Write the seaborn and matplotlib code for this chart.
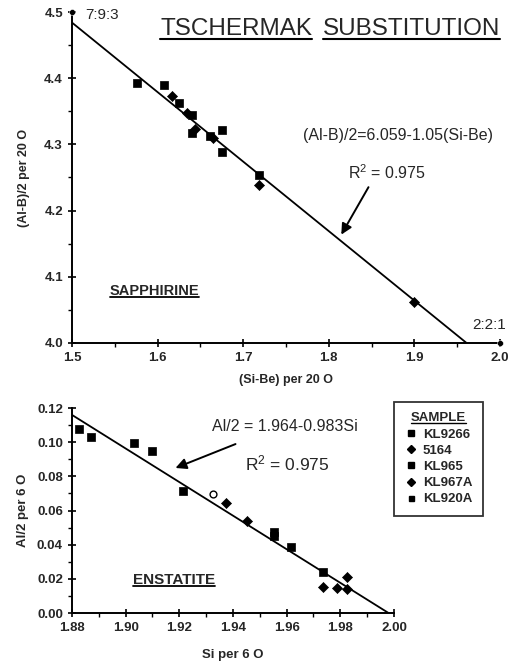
import numpy as np
import pandas as pd
import matplotlib
matplotlib.use("Agg")
import matplotlib.pyplot as plt
import seaborn as sns
from matplotlib.lines import Line2D
from matplotlib.ticker import MultipleLocator, FormatStrFormatter

# ---------------- data ----------------
# Sapphirine (top panel)
sap_x = [1.576, 1.608, 1.617, 1.625, 1.634, 1.640, 1.644, 1.640, 1.661, 1.665, 1.675, 1.675, 1.718, 1.718, 1.900]
sap_y = [4.392, 4.389, 4.373, 4.363, 4.347, 4.345, 4.323, 4.317, 4.312, 4.309, 4.321, 4.289, 4.254, 4.239, 4.062]
sap_sample = ["KL9266", "KL9266", "5164", "KL965", "KL967A", "KL965", "5164", "KL9266",
              "KL965", "KL967A", "KL920A", "KL9266", "KL965", "5164", "KL967A"]

# Enstatite (bottom panel)
ens_x = [1.8826, 1.887, 1.903, 1.910, 1.9214, 1.9374, 1.9452, 1.9553, 1.9553, 1.9616, 1.9735, 1.9735, 1.9788, 1.9825, 1.9825]
ens_y = [0.108, 0.103, 0.0995, 0.0948, 0.0714, 0.0644, 0.0539, 0.0474, 0.0450, 0.0386, 0.0240, 0.0152, 0.0146, 0.0210, 0.0140]
ens_sample = ["KL9266", "KL9266", "KL965", "KL965", "KL920A", "5164", "KL967A", "KL9266",
              "KL965", "KL920A", "KL965", "KL967A", "5164", "KL967A", "5164"]
ens_open_x = [1.9325]
ens_open_y = [0.0697]

samples = ["KL9266", "5164", "KL965", "KL967A", "KL920A"]
sample_markers = {"KL9266": "s", "5164": "D", "KL965": "s", "KL967A": "D", "KL920A": "s"}
sample_sizes = {"KL9266": 32, "5164": 26, "KL965": 32, "KL967A": 26, "KL920A": 30}

# end members
end_x = [1.5, 2.0]
end_y = [4.5, 4.0]
end_labels = ["7:9:3", "2:2:1"]

# regression lines: y = a - b x
sap_a, sap_b = 6.059, 1.05
ens_a, ens_b = 1.964, 0.983

top_xticks = [1.5, 1.6, 1.7, 1.8, 1.9, 2.0]
top_yticks = [4.0, 4.1, 4.2, 4.3, 4.4, 4.5]
bot_xticks = [1.88, 1.90, 1.92, 1.94, 1.96, 1.98, 2.00]
bot_yticks = [0.00, 0.02, 0.04, 0.06, 0.08, 0.10, 0.12]

# ---------------- style ----------------
sns.set_theme(style="ticks")
plt.rcParams["font.family"] = ["Liberation Sans", "DejaVu Sans"]
plt.rcParams["mathtext.fontset"] = "custom"
plt.rcParams["mathtext.rm"] = "Liberation Sans"
plt.rcParams["mathtext.it"] = "Liberation Sans:italic"
plt.rcParams["mathtext.bf"] = "Liberation Sans:bold"

fig = plt.figure(figsize=(5.08, 6.63), dpi=100)
ax1 = fig.add_axes([0.1417, 0.4827, 0.8425, 0.4992])
ax2 = fig.add_axes([0.1417, 0.0754, 0.6339, 0.3092])

underlined = []  # (text artist, linewidth)


def style_axes(ax):
    for s in ["top", "right"]:
        ax.spines[s].set_visible(False)
    for s in ["left", "bottom"]:
        ax.spines[s].set_linewidth(1.4)
        ax.spines[s].set_color("black")
    ax.tick_params(which="major", direction="inout", length=6, width=1.2, labelsize=9.5, color="black")
    ax.tick_params(which="minor", direction="out", length=3, width=1.0, color="black")
    for lab in ax.get_xticklabels() + ax.get_yticklabels():
        lab.set_fontweight("bold")


# ---------------- top panel ----------------
sap = pd.DataFrame({"x": sap_x, "y": sap_y, "sample": sap_sample})
for smp in samples:
    d = sap[sap["sample"] == smp]
    if len(d):
        sns.scatterplot(data=d, x="x", y="y", marker=sample_markers[smp], s=sample_sizes[smp],
                        color="black", edgecolor="black", linewidth=0.5, ax=ax1, legend=False, zorder=3)

x_end = (sap_a - 4.0) / sap_b
xl = np.array([1.5, x_end])
ax1.plot(xl, sap_a - sap_b * xl, color="black", lw=1.3, zorder=2)

ends = pd.DataFrame({"x": end_x, "y": end_y})
sns.scatterplot(data=ends, x="x", y="y", marker="o", s=18, color="black", ax=ax1,
                legend=False, clip_on=False, zorder=4)
ax1.text(1.515, 4.495, end_labels[0], fontsize=11, va="center", ha="left")
ax1.text(1.968, 4.027, end_labels[1], fontsize=11, va="center", ha="left")

ax1.set_xlim(1.5, 2.0)
ax1.set_ylim(4.0, 4.5)
ax1.set_xticks(top_xticks)
ax1.set_yticks(top_yticks)
ax1.xaxis.set_minor_locator(MultipleLocator(0.05))
ax1.yaxis.set_minor_locator(MultipleLocator(0.05))
ax1.xaxis.set_major_formatter(FormatStrFormatter("%.1f"))
ax1.yaxis.set_major_formatter(FormatStrFormatter("%.1f"))
ax1.set_xlabel("(Si-Be) per 20 O", fontsize=9, fontweight="bold", labelpad=7)
ax1.set_ylabel("(Al-B)/2 per 20 O", fontsize=9, fontweight="bold", labelpad=10)
style_axes(ax1)

t = ax1.text(1.603, 4.474, "TSCHERMAK", fontsize=17.5, va="center", ha="left")
underlined.append((t, 1.5))
t = ax1.text(1.793, 4.474, "SUBSTITUTION", fontsize=17.5, va="center", ha="left")
underlined.append((t, 1.5))
ax1.text(1.77, 4.313, "(Al-B)/2=6.059-1.05(Si-Be)", fontsize=11.5, va="center", ha="left")
ax1.text(1.822, 4.257, r"R$^2$ = 0.975", fontsize=11.5, va="center", ha="left")
ax1.annotate("", xy=(1.813, 4.160), xytext=(1.848, 4.239),
             arrowprops=dict(arrowstyle="-|>", color="black", lw=1.4, mutation_scale=16))
t = ax1.text(1.544, 4.078, "SAPPHIRINE", fontsize=10.5, fontweight="bold", va="center", ha="left")
underlined.append((t, 1.3))

# ---------------- bottom panel ----------------
ens = pd.DataFrame({"x": ens_x, "y": ens_y, "sample": ens_sample})
for smp in samples:
    d = ens[ens["sample"] == smp]
    if len(d):
        sns.scatterplot(data=d, x="x", y="y", marker=sample_markers[smp], s=sample_sizes[smp],
                        color="black", edgecolor="black", linewidth=0.5, ax=ax2, legend=False, zorder=3)
ens_open = pd.DataFrame({"x": ens_open_x, "y": ens_open_y})
sns.scatterplot(data=ens_open, x="x", y="y", marker="o", s=24, facecolor="white",
                edgecolor="black", linewidth=1.0, ax=ax2, legend=False, zorder=3)

xl2 = np.array([1.88, 2.0])
ax2.plot(xl2, ens_a - ens_b * xl2, color="black", lw=1.3, zorder=2)

ax2.set_xlim(1.88, 2.00)
ax2.set_ylim(0.0, 0.12)
ax2.set_xticks(bot_xticks)
ax2.set_yticks(bot_yticks)
ax2.xaxis.set_minor_locator(MultipleLocator(0.01))
ax2.yaxis.set_minor_locator(MultipleLocator(0.01))
ax2.xaxis.set_major_formatter(FormatStrFormatter("%.2f"))
ax2.yaxis.set_major_formatter(FormatStrFormatter("%.2f"))
ax2.set_xlabel("Si per 6 O", fontsize=9.5, fontweight="bold", labelpad=11)
ax2.set_ylabel("Al/2 per 6 O", fontsize=9.5, fontweight="bold", labelpad=6)
style_axes(ax2)

ax2.text(1.9322, 0.1089, "Al/2 = 1.964-0.983Si", fontsize=11.5, va="center", ha="left")
ax2.text(1.9445, 0.0878, r"R$^2$ = 0.975", fontsize=12.5, va="center", ha="left")
ax2.annotate("", xy=(1.9176, 0.0843), xytext=(1.9419, 0.0995),
             arrowprops=dict(arrowstyle="-|>", color="black", lw=1.4, mutation_scale=16))
t = ax2.text(1.9027, 0.0193, "ENSTATITE", fontsize=11, fontweight="bold", va="center", ha="left")
underlined.append((t, 1.3))

handles = [Line2D([0], [0], marker=sample_markers[s], color="black", linestyle="none",
                  markersize=(4.5 if sample_markers[s] == "s" else 4.5) if s != "KL920A" else 3.6)
           for s in samples]
leg = ax2.legend(handles, samples, title="SAMPLE",
                 loc="upper left", bbox_to_anchor=(1.0, 1.03), borderaxespad=0.0,
                 frameon=True, fancybox=False,
                 edgecolor="black", fontsize=9.5, title_fontsize=9.5, handlelength=1.0,
                 handletextpad=0.4, labelspacing=0.3, borderpad=0.8)
leg.get_frame().set_linewidth(1.3)
leg.get_title().set_fontweight("bold")
for tx in leg.get_texts():
    tx.set_fontweight("bold")
underlined.append((leg.get_title(), 1.0))

# draw underlines beneath chosen texts
fig.canvas.draw()
renderer = fig.canvas.get_renderer()
inv = fig.transFigure.inverted()
for art, lw in underlined:
    bb = art.get_window_extent(renderer)
    (x0, y0), (x1, _) = inv.transform([(bb.x0, bb.y0 + 1.0), (bb.x1, bb.y0)])
    fig.add_artist(Line2D([x0, x1], [y0, y0], color="black", lw=lw, transform=fig.transFigure))

fig.savefig("out.png", dpi=100)
